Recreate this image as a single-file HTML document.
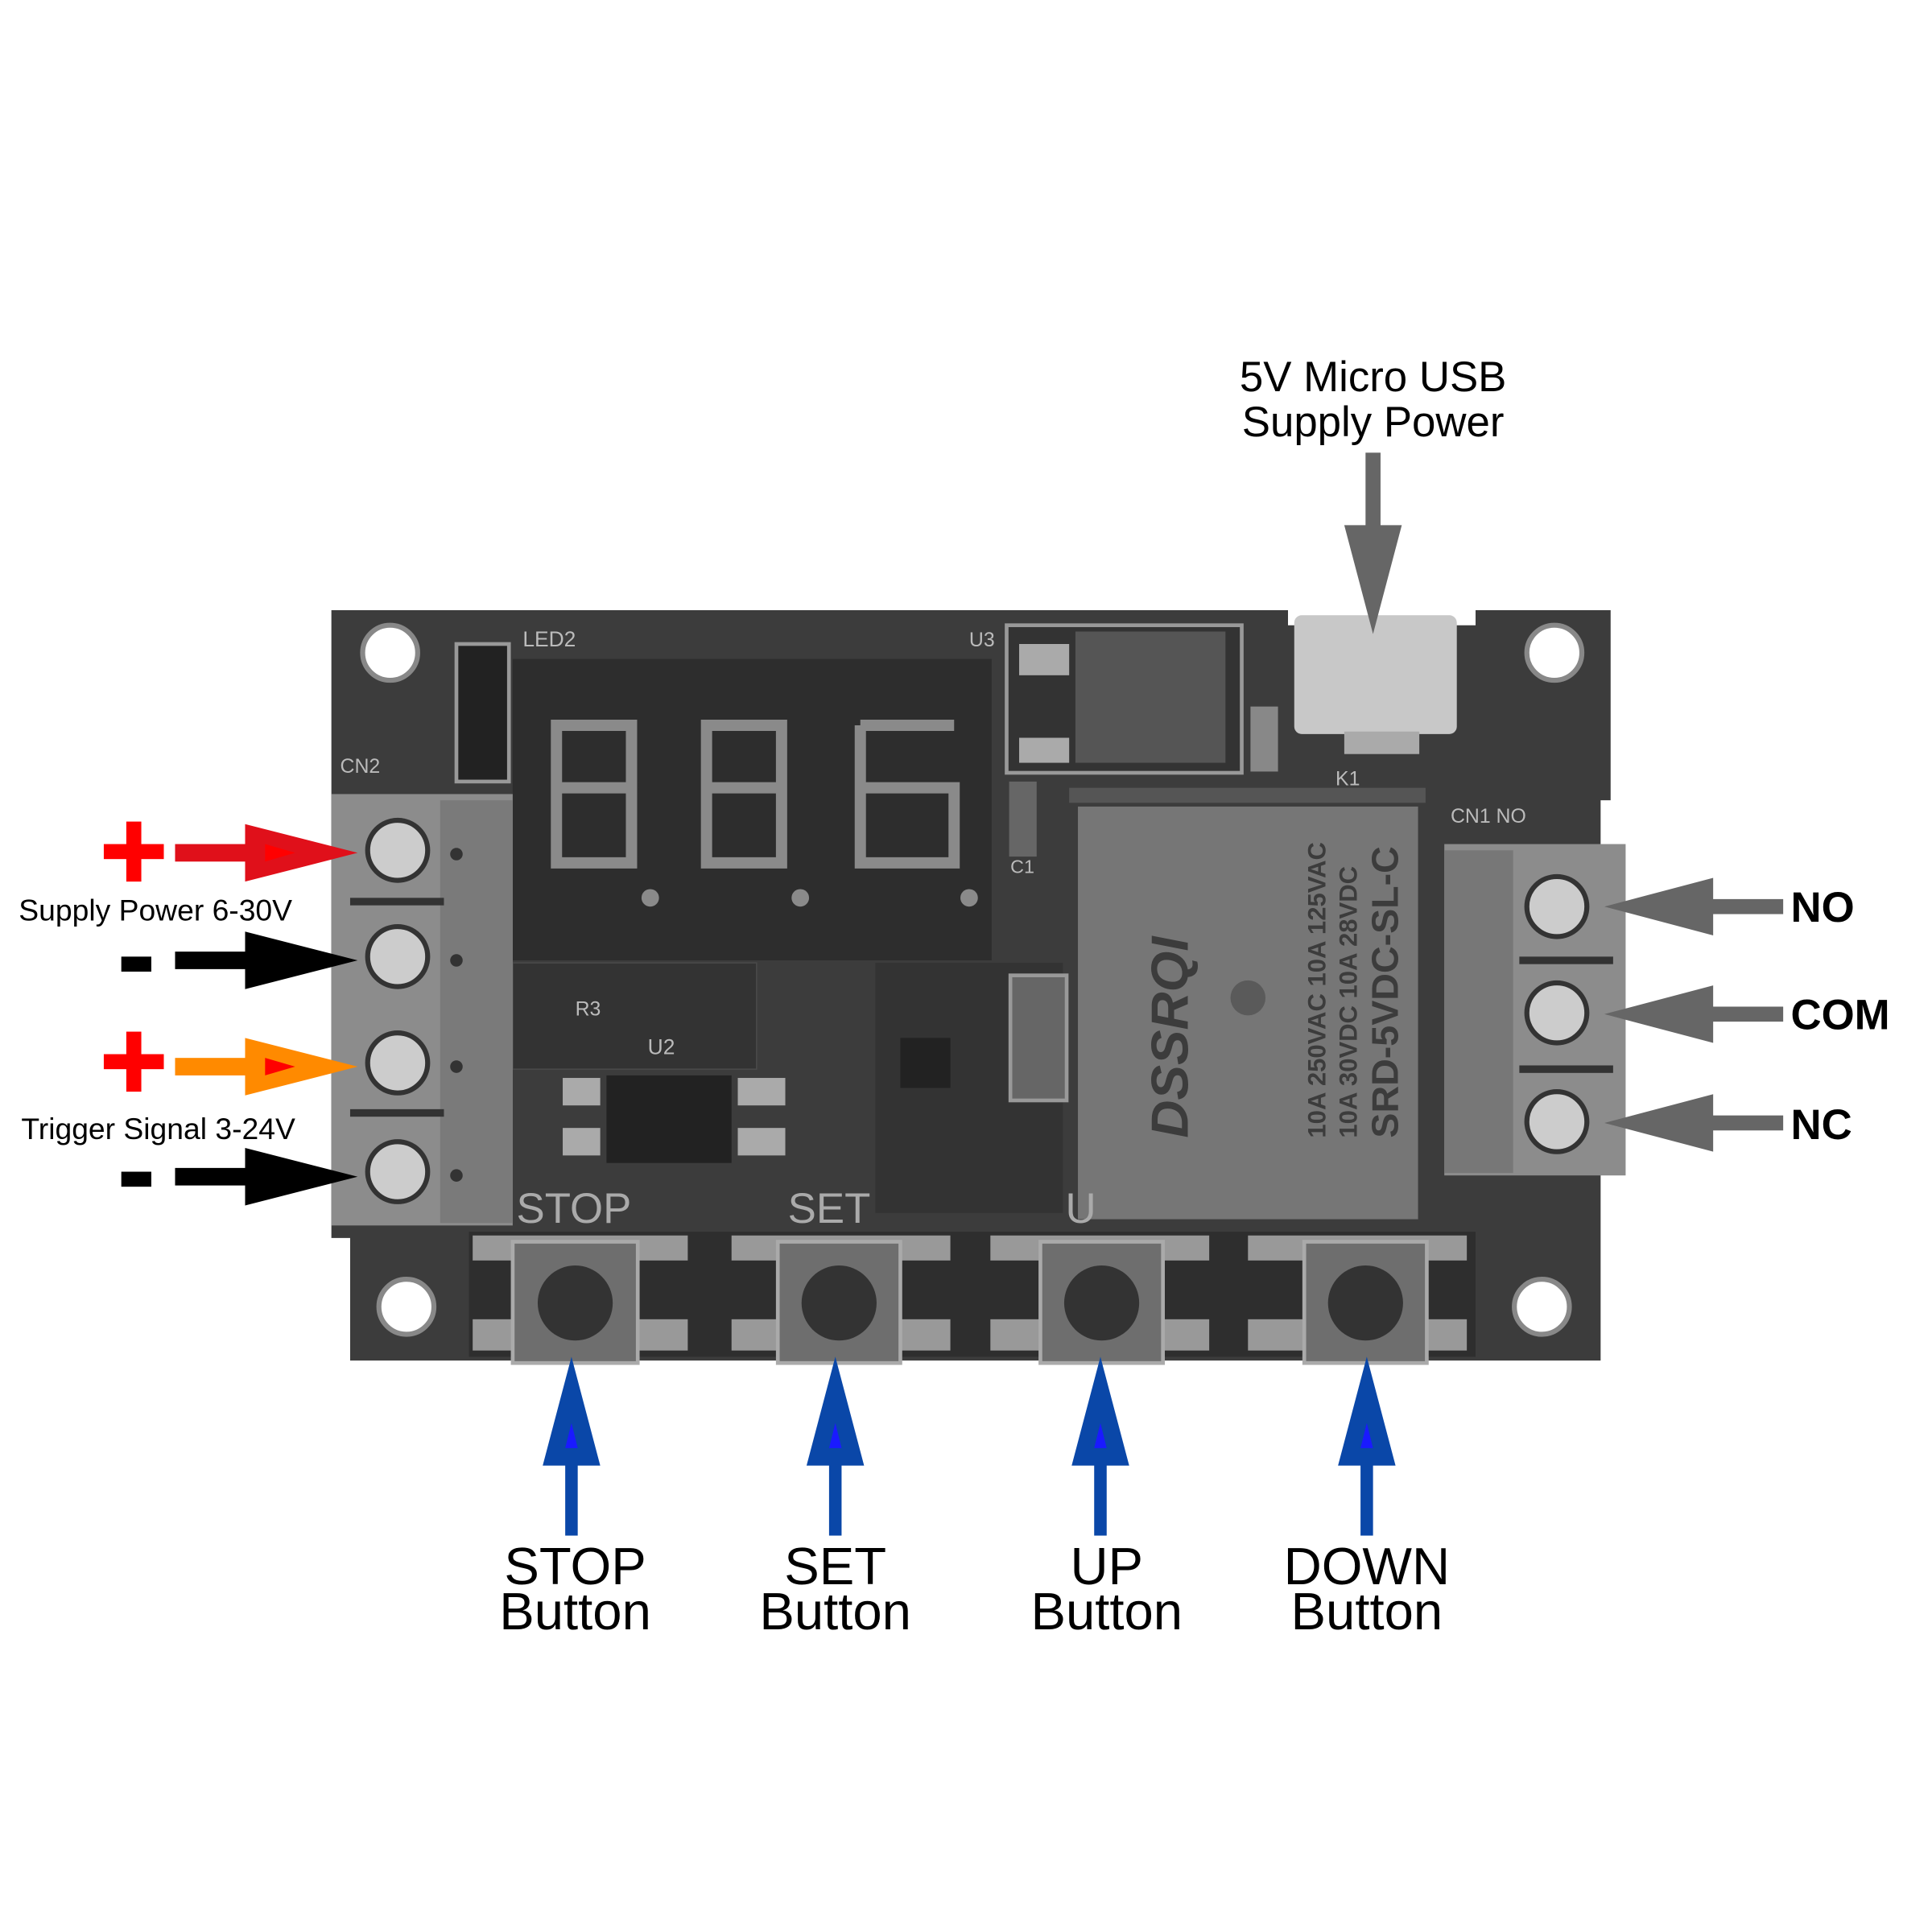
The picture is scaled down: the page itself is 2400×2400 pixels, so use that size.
<!DOCTYPE html>
<html><head><meta charset="utf-8"><style>
html,body{margin:0;padding:0;background:#fff;width:2400px;height:2400px;overflow:hidden}
svg{display:block}
text{font-family:"Liberation Sans",sans-serif}
</style></head><body>
<svg width="2400" height="2400" viewBox="0 0 1545 1545" xmlns="http://www.w3.org/2000/svg">
<rect width="1545" height="1545" fill="#fff"/>
<!-- PCB -->
<path d="M265 488 L1030 488 L1030 500 L1180 500 L1180 488 L1288 488 L1288 640 L1280 640 L1280 1088 L280 1088 L280 990 L265 990 Z" fill="#3c3c3c"/>
<circle cx="312" cy="522" r="22" fill="#fff" stroke="#888" stroke-width="4"/>
<circle cx="1243" cy="522" r="22" fill="#fff" stroke="#888" stroke-width="4"/>
<circle cx="325" cy="1045" r="22" fill="#fff" stroke="#888" stroke-width="4"/>
<circle cx="1233" cy="1045" r="22" fill="#fff" stroke="#888" stroke-width="4"/>
<!-- D2 -->
<rect x="365" y="515" width="42" height="110" fill="#222" stroke="#999" stroke-width="3"/>
<text x="418" y="517" font-size="17" fill="#bbb">LED2</text>
<text x="272" y="618" font-size="16" fill="#bbb">CN2</text>
<!-- display -->
<rect x="410" y="527" width="383" height="241" fill="#2d2d2d"/>
<g fill="none" stroke="#8a8a8a" stroke-width="9">
<path d="M445 580h60v50h-60zM445 630v60h60v-60"/>
<path d="M565 580h60v50h-60zM565 630v60h60v-60"/>
<path d="M688 580h75M688 580v110h75v-60h-75"/>
</g>
<circle cx="520" cy="718" r="7" fill="#8a8a8a"/><circle cx="640" cy="718" r="7" fill="#8a8a8a"/><circle cx="775" cy="718" r="7" fill="#8a8a8a"/>
<!-- U3 regulator -->
<rect x="805" y="500" width="188" height="118" fill="#333" stroke="#999" stroke-width="3"/>
<rect x="860" y="505" width="120" height="105" fill="#555"/>
<rect x="815" y="515" width="40" height="25" fill="#aaa"/><rect x="815" y="590" width="40" height="20" fill="#aaa"/>
<text x="775" y="517" font-size="16" fill="#bbb">U3</text>
<rect x="1000" y="565" width="22" height="52" fill="#888"/>
<!-- USB -->
<rect x="1035" y="492" width="130" height="95" rx="6" fill="#c8c8c8"/>
<rect x="1075" y="585" width="60" height="18" fill="#aaa"/>
<!-- C1 etc -->
<rect x="807" y="625" width="22" height="60" fill="#666"/>
<text x="808" y="698" font-size="15" fill="#bbb">C1</text>
<!-- relay -->
<rect x="855" y="630" width="285" height="12" fill="#555"/>
<text x="1068" y="628" font-size="16" fill="#bbb">K1</text>
<rect x="862" y="645" width="272" height="330" fill="#767676"/>
<g transform="translate(950 910) rotate(-90)" fill="#3c3c3c">
<text x="0" y="0" font-size="42" font-weight="bold" font-style="italic">DSSRQI</text>
<text x="0" y="110" font-size="20" font-weight="bold">10A 250VAC 10A 125VAC</text>
<text x="0" y="135" font-size="20" font-weight="bold">10A 30VDC 10A 28VDC</text>
<text x="0" y="168" font-size="30" font-weight="bold">SRD-5VDC-SL-C</text>
</g>
<circle cx="998" cy="798" r="14" fill="#5a5a5a"/>
<!-- lower mid components -->
<rect x="410" y="770" width="195" height="85" fill="#333" stroke="#4a4a4a"/>
<rect x="485" y="860" width="100" height="70" fill="#222"/>
<g fill="#aaa"><rect x="450" y="862" width="30" height="22"/><rect x="450" y="902" width="30" height="22"/><rect x="590" y="862" width="38" height="22"/><rect x="590" y="902" width="38" height="22"/></g>
<text x="518" y="843" font-size="17" fill="#bbb">U2</text>
<text x="460" y="812" font-size="16" fill="#bbb">R3</text>
<rect x="700" y="770" width="150" height="200" fill="#333"/>
<rect x="808" y="780" width="45" height="100" fill="#666" stroke="#999" stroke-width="3"/>
<rect x="720" y="830" width="40" height="40" fill="#222"/>
<!-- CN1 -->
<text x="1160" y="658" font-size="16" fill="#bbb">CN1 NO</text>
<!-- left terminal -->
<rect x="265" y="635" width="145" height="345" fill="#8c8c8c"/>
<rect x="352" y="640" width="58" height="338" fill="#7a7a7a"/>
<g fill="#ccc" stroke="#333" stroke-width="4">
<circle cx="318" cy="680" r="24"/><circle cx="318" cy="765" r="24"/><circle cx="318" cy="850" r="24"/><circle cx="318" cy="937" r="24"/>
</g>
<g fill="#333"><rect x="280" y="718" width="75" height="6"/><rect x="280" y="887" width="75" height="6"/>
<circle cx="365" cy="683" r="5"/><circle cx="365" cy="768" r="5"/><circle cx="365" cy="853" r="5"/><circle cx="365" cy="940" r="5"/></g>
<!-- right terminal -->
<rect x="1155" y="675" width="145" height="265" fill="#8c8c8c"/>
<rect x="1155" y="680" width="55" height="258" fill="#777"/>
<g fill="#ccc" stroke="#333" stroke-width="4">
<circle cx="1245" cy="725" r="24"/><circle cx="1245" cy="810" r="24"/><circle cx="1245" cy="897" r="24"/>
</g>
<g fill="#333"><rect x="1215" y="765" width="75" height="6"/><rect x="1215" y="852" width="75" height="6"/></g>
<!-- button strip -->
<rect x="375" y="985" width="805" height="100" fill="#2e2e2e"/>
<text x="413" y="978" font-size="34" fill="#aaa">STOP</text>
<text x="630" y="978" font-size="34" fill="#aaa">SET</text>
<text x="852" y="978" font-size="34" fill="#aaa">U</text>
<g fill="#999">
<rect x="378" y="988" width="172" height="20"/><rect x="378" y="1055" width="172" height="25"/>
<rect x="585" y="988" width="175" height="20"/><rect x="585" y="1055" width="175" height="25"/>
<rect x="792" y="988" width="175" height="20"/><rect x="792" y="1055" width="175" height="25"/>
<rect x="998" y="988" width="175" height="20"/><rect x="998" y="1055" width="175" height="25"/>
</g>
<g fill="#6e6e6e" stroke="#aaa" stroke-width="3">
<rect x="410" y="993" width="100" height="97"/><rect x="622" y="993" width="98" height="97"/><rect x="832" y="993" width="98" height="97"/><rect x="1043" y="993" width="98" height="97"/>
</g>
<g fill="#333"><circle cx="460" cy="1042" r="30"/><circle cx="671" cy="1042" r="30"/><circle cx="881" cy="1042" r="30"/><circle cx="1092" cy="1042" r="30"/></g>
<!-- left arrows -->
<g fill="#f00"><rect x="83" y="675" width="48" height="12"/><rect x="101" y="657" width="12" height="48"/>
<rect x="83" y="843" width="48" height="12"/><rect x="101" y="825" width="12" height="48"/></g>
<rect x="97" y="765" width="24" height="12" fill="#000"/><rect x="97" y="937" width="24" height="12" fill="#000"/>
<rect x="140" y="675" width="62" height="14" fill="#e0101a"/><path d="M196 659 L286 682 L196 705Z" fill="#e0101a"/><path d="M212 675 L236 682 L212 689Z" fill="#f00"/>
<rect x="140" y="761" width="62" height="14" fill="#000"/><path d="M196 745 L286 768 L196 791Z" fill="#000"/>
<rect x="140" y="846" width="62" height="14" fill="#ff8a00"/><path d="M196 830 L286 853 L196 876Z" fill="#ff8a00"/><path d="M212 846 L236 853 L212 860Z" fill="#f00"/>
<rect x="140" y="934" width="62" height="14" fill="#000"/><path d="M196 918 L286 941 L196 964Z" fill="#000"/>
<text x="15" y="736" font-size="24" fill="#000">Supply Power 6-30V</text>
<text x="17" y="911" font-size="24" fill="#000">Trigger Signal 3-24V</text>
<!-- right arrows -->
<g fill="#666">
<rect x="1360" y="719" width="66" height="12"/><path d="M1283 725 L1370 702 L1370 748Z"/>
<rect x="1360" y="805" width="66" height="12"/><path d="M1283 811 L1370 788 L1370 834Z"/>
<rect x="1360" y="892" width="66" height="12"/><path d="M1283 898 L1370 875 L1370 921Z"/>
</g>
<text x="1432" y="737" font-size="34" font-weight="bold">NO</text>
<text x="1432" y="823" font-size="34" font-weight="bold">COM</text>
<text x="1432" y="911" font-size="34" font-weight="bold">NC</text>
<!-- USB arrow -->
<rect x="1092" y="362" width="12" height="65" fill="#666"/><path d="M1075 420 L1121 420 L1098 507Z" fill="#666"/>
<text x="1098" y="313" font-size="34" text-anchor="middle">5V Micro USB</text>
<text x="1098" y="349" font-size="34" text-anchor="middle">Supply Power</text>
<!-- blue arrows -->
<g fill="#0a47a8">
<rect x="452" y="1165" width="10" height="63"/><path d="M457 1085 L480 1172 L434 1172Z"/>
<rect x="663" y="1165" width="10" height="63"/><path d="M668 1085 L691 1172 L645 1172Z"/>
<rect x="875" y="1165" width="10" height="63"/><path d="M880 1085 L903 1172 L857 1172Z"/>
<rect x="1088" y="1165" width="10" height="63"/><path d="M1093 1085 L1116 1172 L1070 1172Z"/>
</g>
<g fill="#1a1aff"><path d="M457 1138 L462 1158 L452 1158Z"/><path d="M668 1138 L673 1158 L663 1158Z"/><path d="M880 1138 L885 1158 L875 1158Z"/><path d="M1093 1138 L1098 1158 L1088 1158Z"/></g>
<g font-size="42" text-anchor="middle" fill="#000">
<text x="460" y="1267">STOP</text><text x="460" y="1303">Button</text>
<text x="668" y="1267">SET</text><text x="668" y="1303">Button</text>
<text x="885" y="1267">UP</text><text x="885" y="1303">Button</text>
<text x="1093" y="1267">DOWN</text><text x="1093" y="1303">Button</text>
</g>
</svg>
</body></html>
